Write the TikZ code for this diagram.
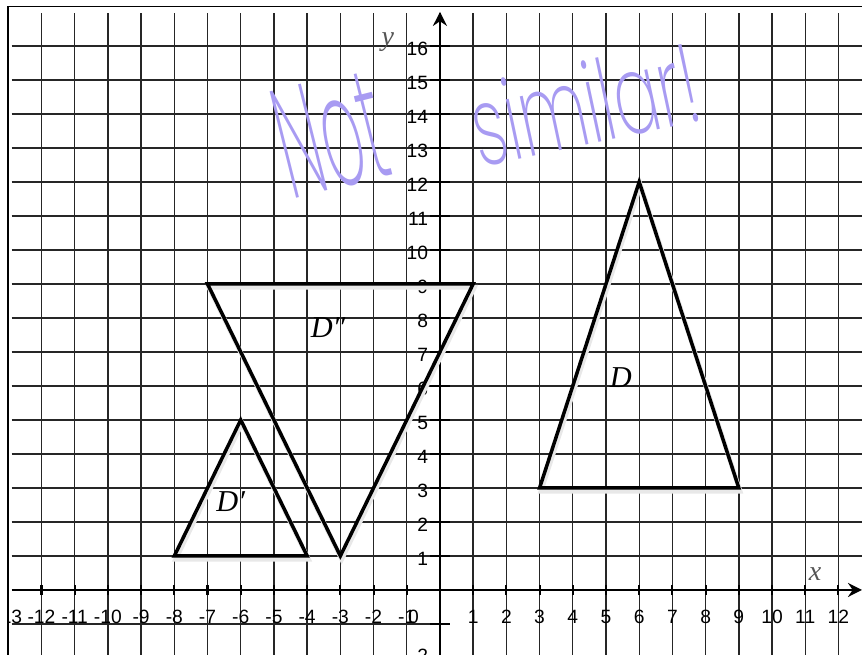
\documentclass[tikz,border=0pt]{standalone}
\usepackage{fontspec}
\setmainfont{Liberation Serif}
\setsansfont{Liberation Sans}
\newfontfamily\handfont{Poppins ExtraLight}
\usepackage{tikz}
\usetikzlibrary{arrows.meta,calc}
\definecolor{HandLilac}{RGB}{168,155,242}
\definecolor{LabelGray}{RGB}{85,85,85}

\begin{document}
\begin{tikzpicture}[x=1cm,y=1.024cm,
		gridline/.style={black!85,line width=1.2pt},
		axisline/.style={black,line width=2pt},
		tickmark/.style={black,line width=1.8pt},
		tri/.style={black,line width=3pt},
		trishadow/.style={black!9,line width=4pt,shift={(0.04,-0.1)}},
		ticklab/.style={font=\sffamily\fontsize{16.5}{16.5}\selectfont,inner sep=0pt},
		trilab/.style={font=\itshape\fontsize{26}{26}\selectfont,inner sep=0pt},
		axislab/.style={font=\itshape\fontsize{24}{24}\selectfont,text=LabelGray,inner sep=0pt},
		handtext/.style={text=HandLilac,inner sep=0pt}]
	\useasboundingbox (-13.25,-1.91) rectangle (12.71,17.35);
	\begin{scope}
		\clip (-13,-1.91) rectangle (12.71,17.16);
		\foreach \i in {-12,...,12}
			\draw[gridline] (\i,-1.91) -- (\i,16.97);
		\foreach \j in {1,...,16}
			\draw[gridline] (-12.9,\j) -- (12.71,\j);
		\draw[gridline] (-12.9,-1) -- (0,-1);
		\foreach \i in {-13,...,-1,1,2,...,13}
			\node[ticklab] (xl\i) at (\i,-0.8) {\i};
		\node[ticklab] (xl0) at (-0.8,-0.8) {0};
		\foreach \j in {1,...,16}
			\node[ticklab,anchor=east] (yl\j) at (-0.35,\j-0.08) {\j};
		\node[ticklab,anchor=east] (ylm2) at (-0.35,-1.95) {-2};
	\end{scope}
	\draw[black,line width=1.4pt] (-13,-1.91) -- (-13,17.16) -- (12.71,17.16);
	\coordinate (xstart) at (-12.9,0);
	\coordinate (xend) at (12.71,0);
	\coordinate (ystart) at (0,-1.91);
	\coordinate (yend) at (0,17.0);
	\draw[axisline,-{Stealth[length=12pt,width=12pt,inset=4pt]}] (xstart) -- (xend);
	\draw[axisline,-{Stealth[length=12pt,width=12pt,inset=4pt]}] (ystart) -- (yend);
	\foreach \i in {-12,...,12}
		\draw[tickmark] (\i,-0.15) -- (\i,0.15);
	\foreach \j in {-1,1,2,...,16}
		\draw[tickmark] (-0.3,\j) -- (0.3,\j);
	\draw[trishadow] (3,3) -- (9,3) -- (6,12) -- cycle;
	\draw[trishadow] (-8,1) -- (-4,1) -- (-6,5) -- cycle;
	\draw[trishadow] (-7,9) -- (1,9) -- (-3,1) -- cycle;
	\draw[tri] (3,3) -- (9,3) -- (6,12) -- cycle;
	\draw[tri] (-8,1) -- (-4,1) -- (-6,5) -- cycle;
	\draw[tri] (-7,9) -- (1,9) -- (-3,1) -- cycle;
	\node[trilab] (labD) at (5.45,6.24) {D};
	\node[trilab] (labDp) at (-6.3,2.59) {D′};
	\node[trilab] (labDpp) at (-3.37,7.71) {D″};
	\node[axislab] (labx) at (11.3,0.47) {x};
	\node[axislab] (laby) at (-1.57,16.12) {y};
	\node[handtext,font=\handfont\fontsize{134}{134}\selectfont,rotate=14,xscale=0.41] (nottext) at (-3.3,13.4) {Not};
	\node[handtext,font=\handfont\fontsize{96}{96}\selectfont,rotate=12,xscale=0.6] (similartext) at (4.35,14.3) {similar!};
\end{tikzpicture}
\end{document}
